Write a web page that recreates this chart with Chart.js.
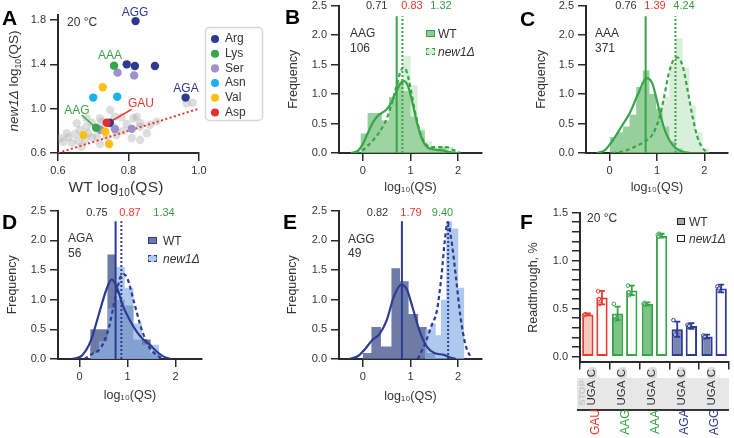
<!DOCTYPE html>
<html><head><meta charset="utf-8">
<script src="https://cdn.jsdelivr.net/npm/chart.js@4.4.1/dist/chart.umd.min.js"></script>
<style>
html,body{margin:0;padding:0;background:#fff}
body{width:734px;height:438px;position:relative;overflow:hidden;font-family:"Liberation Sans",Arial,Helvetica,sans-serif;color:#333}
canvas{position:absolute}
.t{position:absolute;white-space:nowrap;line-height:1}
.c{transform:translate(-50%,-50%)}
.l{transform:translate(0,-50%)}
.r{transform:translate(-50%,-50%) rotate(-90deg)}
.pl{font-weight:bold;font-size:21px;color:#000}
.sub{font-size:8.5px;position:relative;top:3px}
.subA{font-size:10px;position:relative;top:3.5px}
</style></head><body>
<script>
// ---------------- DATA ----------------
// Panel A
const aLegend = ['Arg','Lys','Ser','Asn','Val','Asp'];
const aArg = [[0.82,1.79],[0.795,1.40],[0.818,1.385],[0.875,1.385],[0.962,1.10],[0.747,0.873]];
const aLys = [[0.759,1.388],[0.708,0.828]];
const aSer = [[0.769,1.325],[0.816,1.30],[0.762,0.815],[0.809,0.818],[0.72,0.81]];
const aAsn = [[0.70,1.10],[0.768,1.108]];
const aVal = [[0.727,1.193],[0.672,0.762],[0.734,0.792],[0.745,0.681]];
const aAsp = [[0.738,0.873]];
const aGray = [[0.965,1.049],[0.982,1.054],[0.748,0.988],[0.781,0.922],[0.814,0.913],[0.823,0.928],[0.861,0.853],[0.833,0.837],[0.809,0.733],[0.833,0.717],[0.724,0.883],[0.696,0.874],[0.681,0.837],[0.662,0.808],[0.648,0.771],[0.629,0.741],[0.615,0.702],[0.639,0.693],[0.658,0.711],[0.677,0.717],[0.696,0.741],[0.719,0.681],[0.71,0.747],[0.766,0.762],[0.785,0.801],[0.795,0.862],[0.762,0.928],[0.719,0.913],[0.681,0.913],[0.653,0.868],[0.686,0.778],[0.738,0.747],[0.88,0.883],[0.852,0.778],[0.625,0.778],[0.606,0.733],[0.757,0.837],[0.667,0.657],[0.833,0.868]];
const aDiag = [[0.6,0.6],[1.0,1.0]];
const aLeaderAAG = [[0.667,0.943],[0.708,0.828]];
const aLeaderGAU = [[0.809,0.994],[0.743,0.873]];
const aXTicks = [0.6,0.8,1.0];
const aYTicks = [0.6,1.0,1.4,1.8];

// Histogram panels (B-E)
const histXTicks = [0,1,2];
const histYTicks = [0,0.5,1.0,1.5,2.0,2.5];
const medTop = 2.32;

const bMedians = [0.71,0.83];
const bWtEdges = [-0.05,0.1,0.25,0.4,0.55,0.7,0.85,1.0,1.15,1.3,1.45,1.6,1.75];
const bWtHist  = [0.33,0.68,0.68,0.55,0.95,1.2,1.05,0.62,0.38,0.1,0.05,0.1];
const bNewEdges = [-0.05,0.1,0.25,0.4,0.55,0.7,0.85,1.0,1.15,1.3,1.45,1.6,1.75,1.9];
const bNewHist  = [0.12,0.2,0.3,0.5,0.82,1.25,1.65,1.15,0.42,0.2,0.1,0.12,0.1];
const bKdeWT = [[-0.25,0],[-0.1,0.04],[0.0,0.15],[0.1,0.33],[0.2,0.5],[0.3,0.62],[0.4,0.68],[0.5,0.74],[0.6,0.86],[0.7,1.04],[0.8,1.19],[0.87,1.22],[0.95,1.13],[1.05,0.82],[1.15,0.47],[1.25,0.22],[1.35,0.1],[1.5,0.06],[1.7,0.04],[1.85,0.01],[2.0,0]];
const bKdeNew = [[-0.15,0],[0.0,0.05],[0.1,0.12],[0.2,0.2],[0.3,0.3],[0.4,0.42],[0.5,0.58],[0.6,0.82],[0.7,1.12],[0.8,1.4],[0.85,1.45],[0.92,1.38],[1.0,1.1],[1.1,0.68],[1.2,0.35],[1.3,0.17],[1.45,0.1],[1.6,0.1],[1.75,0.1],[1.9,0.05],[2.05,0]];

const cMedians = [0.76,1.39];
const cWtEdges = [0,0.14,0.28,0.42,0.56,0.7,0.84,0.98,1.12,1.26,1.4,1.54];
const cWtHist  = [0.27,0.35,0.45,0.65,1.12,1.4,1.0,0.75,0.45,0.2,0.08];
const cNewEdges = [0.28,0.42,0.56,0.7,0.84,0.98,1.12,1.26,1.4,1.54,1.68,1.82,1.96,2.1];
const cNewHist  = [0.05,0.1,0.15,0.22,0.3,0.55,0.95,1.5,1.95,1.45,0.8,0.35,0.08];
const cKdeWT = [[-0.27,0],[-0.1,0.05],[0.07,0.22],[0.25,0.45],[0.42,0.67],[0.6,1.0],[0.78,1.27],[0.9,1.18],[1.05,0.72],[1.15,0.42],[1.26,0.22],[1.4,0.08],[1.55,0.02],[1.7,0]];
const cKdeNew = [[0.05,0],[0.3,0.03],[0.57,0.12],[0.75,0.2],[0.91,0.32],[1.05,0.6],[1.15,0.95],[1.25,1.35],[1.35,1.58],[1.44,1.62],[1.55,1.45],[1.65,1.05],[1.75,0.62],[1.85,0.28],[1.95,0.1],[2.07,0]];

const dMedians = [0.75,0.87];
const dWtEdges = [0.22,0.4,0.58,0.76,0.94,1.12,1.3,1.48,1.66];
const dWtHist  = [0.5,0.5,1.76,1.0,0.9,0.33,0.33,0.1];
const dNewEdges = [0.22,0.4,0.58,0.76,0.94,1.12,1.3,1.48,1.66];
const dNewHist  = [0.1,0.3,0.85,1.55,1.2,0.6,0.24,0.24];
const dKdeWT = [[-0.15,0],[0.05,0.06],[0.23,0.3],[0.4,0.75],[0.55,1.15],[0.67,1.34],[0.78,1.2],[0.9,0.9],[1.05,0.65],[1.2,0.45],[1.33,0.33],[1.45,0.25],[1.6,0.13],[1.75,0.04],[1.9,0]];
const dKdeNew = [[0.1,0],[0.25,0.08],[0.45,0.2],[0.6,0.5],[0.75,1.05],[0.85,1.38],[0.92,1.43],[1.0,1.35],[1.13,0.97],[1.3,0.48],[1.45,0.2],[1.6,0.07],[1.75,0]];

const eMedians = [0.82,1.79];
const eWtEdges = [0,0.18,0.38,0.6,0.78,0.96,1.16,1.34,1.52];
const eWtHist  = [0.1,0.54,0.21,1.53,1.31,0.76,0.54,0.1];
const eNewEdges = [1.3,1.42,1.53,1.64,1.75,1.87,2.0,2.13];
const eNewHist  = [0.5,0.6,0.4,1.0,2.32,2.2,1.2];
const eKdeWT = [[-0.3,0],[-0.1,0.05],[0.05,0.17],[0.2,0.32],[0.35,0.42],[0.5,0.65],[0.65,1.05],[0.8,1.25],[0.92,1.18],[1.05,0.85],[1.2,0.45],[1.35,0.2],[1.5,0.1],[1.7,0.07],[1.85,0.02],[1.95,0]];
const eKdeNew = [[1.15,0],[1.3,0.25],[1.45,0.58],[1.55,0.8],[1.65,1.4],[1.72,2.0],[1.78,2.3],[1.85,2.05],[1.95,1.4],[2.05,0.7],[2.15,0.25],[2.28,0]];

// Panel F
const fCodons = ['GAU','AAG','AAA','AGA','AGG'];
const fWT  = [0.44,0.45,0.55,0.285,0.21];
const fNew = [0.615,0.69,1.26,0.32,0.71];
const fErrWT  = [0.01,0.07,0.015,0.08,0.02];
const fErrNew = [0.07,0.05,0.02,0.03,0.04];
const fRepWT  = [[0.43,0.44,0.44],[0.55,0.42,0.38],[0.55,0.56,0.54],[0.38,0.25,0.23],[0.22,0.20,0.21]];
const fRepNew = [[0.68,0.60,0.55],[0.74,0.67,0.64],[1.27,1.25,1.28],[0.33,0.31,0.32],[0.73,0.69,0.71]];
const fTicks = [0,0.1,0.2,0.3,0.4,0.5,0.6,0.7,0.8,0.9,1.0,1.1,1.2,1.3,1.4,1.5];
const fTickLabels = ['0.0','0.5','1.0','1.5'];

// ---------------- STYLE ----------------
const AX = '#2a2a2a';
const GREEN = '#36a548', BLUE = '#2d3b94', RED = '#e8392f', NUMGREEN = '#3a9b47', TXT = '#333';
const aColors = ['#2d3a8f','#35a848','#9d90cc','#1db1ec','#fbbf12','#e6302e'];
const fColors = [RED, GREEN, GREEN, BLUE, BLUE];
const fWtFill = ['#f8c7bb','#7cc387','#7cc387','#7a86ad','#7a86ad'];
Chart.defaults.font.family = '"Liberation Sans", Arial, Helvetica, sans-serif';
Chart.defaults.font.size = 11;
Chart.defaults.color = TXT;

const pts = arr => arr.map(p => ({x: p[0], y: p[1]}));
const fmt1 = v => Number(v).toFixed(1);
const fmt0 = v => String(v);

function mkCanvas(area, yW, xH, padTop, padRight, extraRight) {
  const l = area.l - yW, t = area.t - padTop;
  const w = area.r + (extraRight || 0) + padRight - l, h = area.b + xH - t;
  const c = document.createElement('canvas');
  c.width = w; c.height = h;
  Object.assign(c.style, {left: l + 'px', top: t + 'px', width: w + 'px', height: h + 'px'});
  document.body.appendChild(c);
  return {c, l, t, padTop, padRight};
}
function axis(pos, min, max, ticks, fmt, size, title, tsize) {
  const horiz = pos === 'bottom';
  return {
    type: 'linear', position: pos, min, max,
    border: {display: true, color: AX, width: 2},
    grid: {drawOnChartArea: false, drawTicks: true, tickLength: 8, color: AX, lineWidth: 1.5},
    ticks: {font: {size: 11}, color: TXT, padding: horiz ? 3 : 4, autoSkip: false, maxRotation: 0, callback: fmt},
    afterBuildTicks: s => { s.ticks = ticks.map(v => ({value: v})); },
    afterFit: s => { if (horiz) s.height = size; else s.width = size; },
    title: title ? {display: true, text: title, font: {size: tsize || 12.5}, color: TXT, padding: 0} : {display: false}
  };
}
function baseOpts(cv) {
  return {responsive: false, animation: false, devicePixelRatio: 1, events: [],
    layout: {padding: {top: cv.padTop, right: cv.padRight, left: 0, bottom: 0}}};
}
function txt(html, x, y, cls, style) {
  const d = document.createElement('div');
  d.className = 't ' + cls; d.innerHTML = html;
  d.style.left = x + 'px'; d.style.top = y + 'px';
  Object.assign(d.style, style || {});
  document.body.appendChild(d);
  return d;
}
function box(x, y, w, h, style) {
  const d = document.createElement('div');
  Object.assign(d.style, {position: 'absolute', left: x + 'px', top: y + 'px', width: w + 'px', height: h + 'px', boxSizing: 'border-box'}, style);
  document.body.appendChild(d);
  return d;
}

// ---------------- PANEL A ----------------
const A = mkCanvas({l: 58, t: 15, r: 199, b: 153}, 58, 43, 15, 5, 60);
const aGroups = [aArg, aLys, aSer, aAsn, aVal, aAsp];
const aOrder = [4, 2, 6, 5, 3, 1];
const aDatasets = aGroups.map((g, i) => ({type: 'scatter', label: aLegend[i], data: pts(g),
  backgroundColor: aColors[i], borderColor: aColors[i], borderWidth: 0, pointRadius: 4.2, pointStyle: 'circle', order: aOrder[i]}));
aDatasets.push({type: 'scatter', label: 'other', data: pts(aGray), backgroundColor: 'rgba(165,165,165,0.38)', borderWidth: 0, pointRadius: 4.2, order: 20});
aDatasets.push({type: 'line', label: 'y=x', data: pts(aDiag), borderColor: RED, borderWidth: 2, borderDash: [2, 2.5], pointRadius: 0, order: 15});
aDatasets.push({type: 'line', label: 'AAG', data: pts(aLeaderAAG), borderColor: GREEN, borderWidth: 1.5, pointRadius: 0, order: 7});
aDatasets.push({type: 'line', label: 'GAU', data: pts(aLeaderGAU), borderColor: RED, borderWidth: 1.5, pointRadius: 0, order: 7});
const aLegendPlugin = {
  id: 'aLegendBox',
  beforeLayout(chart) {
    const lg = chart.legend;
    if (lg && !lg.__fixed) { const f = lg.fit.bind(lg); lg.fit = function () { f(); this.width = 60; }; lg.__fixed = true; }
  },
  afterLayout(chart) {
    const lg = chart.legend, w = lg.width, h = lg.height;
    lg.left = 208.3; lg.top = 30.3; lg.right = lg.left + w; lg.bottom = lg.top + h;
  },
  beforeDraw(chart) {
    const ctx = chart.ctx; ctx.save(); ctx.strokeStyle = '#d6d6d6'; ctx.lineWidth = 1.5;
    ctx.beginPath(); ctx.roundRect(205.5, 27.5, 57, 93, 4); ctx.stroke(); ctx.restore();
  }
};
new Chart(A.c, {type: 'scatter', data: {datasets: aDatasets}, options: Object.assign(baseOpts(A), {
  scales: {x: axis('bottom', 0.6, 1.0, aXTicks, fmt1, 43, null), y: axis('left', 0.6, 1.845, aYTicks, fmt1, 58, null)},
  plugins: {tooltip: {enabled: false}, legend: {display: true, position: 'right', align: 'start',
    labels: {usePointStyle: true, boxWidth: 8, boxHeight: 5.7, padding: 2.7, font: {size: 12}, color: TXT,
      filter: it => it.datasetIndex < 6, sort: (a, b) => a.datasetIndex - b.datasetIndex}}}
}), plugins: [aLegendPlugin]});

// ---------------- HISTOGRAM PANELS ----------------
function histPanel(p) {
  const cv = mkCanvas(p.area, p.yW, p.xH, 10, p.padR, 0);
  const stepData = (edges, h) => edges.map((e, i) => ({x: e, y: i < h.length ? h[i] : 0}));
  const ds = [
    {label: 'WT median', data: [{x: p.med[0], y: 0}, {x: p.med[0], y: medTop}], borderColor: p.line, borderWidth: 2, pointRadius: 0, order: 1},
    {label: 'new1 median', data: [{x: p.med[1], y: 0}, {x: p.med[1], y: medTop}], borderColor: p.line, borderWidth: 2, borderDash: [2, 2], pointRadius: 0, order: 1},
    {label: 'WT', data: pts(p.kdeWT), borderColor: p.line, borderWidth: 2.2, pointRadius: 0, cubicInterpolationMode: 'monotone', order: 2},
    {label: 'new1', data: pts(p.kdeNew), borderColor: p.line, borderWidth: 2.2, borderDash: [4, 3], pointRadius: 0, cubicInterpolationMode: 'monotone', order: 2},
    {label: 'new1 hist', data: stepData(p.newE, p.newH), stepped: 'before', fill: 'origin', backgroundColor: p.newFill, borderColor: 'rgba(0,0,0,0)', borderWidth: 0, pointRadius: 0, order: 10},
    {label: 'WT hist', data: stepData(p.wtE, p.wtH), stepped: 'before', fill: 'origin', backgroundColor: p.wtFill, borderColor: 'rgba(0,0,0,0)', borderWidth: 0, pointRadius: 0, order: 11}
  ];
  return new Chart(cv.c, {type: 'line', data: {datasets: ds}, options: Object.assign(baseOpts(cv), {
    scales: {x: axis('bottom', p.xmin, p.xmax, histXTicks, fmt0, p.xH, 'log\u2081\u2080(QS)'), y: axis('left', 0, 2.5, histYTicks, fmt1, p.yW, 'Frequency')},
    plugins: {legend: {display: false}, tooltip: {enabled: false}}
  })});
}
const gWt = 'rgba(80,175,90,0.6)', gNew = 'rgba(170,220,170,0.45)';
const uWt = 'rgba(85,100,150,0.85)', uNew = 'rgba(140,178,228,0.7)';
histPanel({area: {l: 339, t: 5, r: 482, b: 153}, yW: 53, xH: 42, padR: 6, xmin: -0.5, xmax: 2.5, med: bMedians, line: GREEN,
  wtFill: gWt, newFill: gNew, wtE: bWtEdges, wtH: bWtHist, newE: bNewEdges, newH: bNewHist, kdeWT: bKdeWT, kdeNew: bKdeNew});
histPanel({area: {l: 586, t: 5, r: 728, b: 153}, yW: 52, xH: 42, padR: 6, xmin: -0.5, xmax: 2.5, med: cMedians, line: GREEN,
  wtFill: gWt, newFill: gNew, wtE: cWtEdges, wtH: cWtHist, newE: cNewEdges, newH: cNewHist, kdeWT: cKdeWT, kdeNew: cKdeNew});
histPanel({area: {l: 58, t: 210, r: 202, b: 359}, yW: 53, xH: 44, padR: 8, xmin: -0.45, xmax: 2.55, med: dMedians, line: BLUE,
  wtFill: uWt, newFill: uNew, wtE: dWtEdges, wtH: dWtHist, newE: dNewEdges, newH: dNewHist, kdeWT: dKdeWT, kdeNew: dKdeNew});
histPanel({area: {l: 339, t: 210, r: 482, b: 359}, yW: 54, xH: 45, padR: 8, xmin: -0.5, xmax: 2.5, med: eMedians, line: BLUE,
  wtFill: uWt, newFill: uNew, wtE: eWtEdges, wtH: eWtHist, newE: eNewEdges, newH: eNewHist, kdeWT: eKdeWT, kdeNew: eKdeNew});

// ---------------- PANEL F ----------------
const F = mkCanvas({l: 580, t: 212, r: 729, b: 363}, 54, 10, 10, 4, 0);
const fMarks = {id: 'errbarsAndReplicates', afterDatasetsDraw(chart) {
  const ctx = chart.ctx, ys = chart.scales.y;
  [[0, fWT, fErrWT, fRepWT], [1, fNew, fErrNew, fRepNew]].forEach(([di, vals, errs, reps]) => {
    chart.getDatasetMeta(di).data.forEach((bar, i) => {
      const x = bar.x, y1 = ys.getPixelForValue(vals[i] - errs[i]), y2 = ys.getPixelForValue(vals[i] + errs[i]);
      ctx.save();
      ctx.strokeStyle = fColors[i]; ctx.fillStyle = 'rgba(255,255,255,0.6)'; ctx.lineWidth = 1;
      reps[i].forEach((v, k) => {
        const px = x - 3 + (k - 1) * 0.8, py = ys.getPixelForValue(v);
        ctx.beginPath(); ctx.arc(px, py, 1.8, 0, Math.PI * 2); ctx.fill(); ctx.stroke();
      });
      ctx.lineWidth = 1.8; ctx.beginPath();
      ctx.moveTo(x, y1); ctx.lineTo(x, y2);
      ctx.moveTo(x - 3, y1); ctx.lineTo(x + 3, y1); ctx.moveTo(x - 3, y2); ctx.lineTo(x + 3, y2);
      ctx.stroke(); ctx.restore();
    });
  });
}};
const fChart = new Chart(F.c, {type: 'bar', data: {labels: fCodons, datasets: [
  {label: 'WT', data: fWT, backgroundColor: fWtFill, borderColor: fColors, borderWidth: 2, borderSkipped: false, barPercentage: 0.8, categoryPercentage: 0.95},
  {label: 'new1\u0394', data: fNew, backgroundColor: '#ffffff', borderColor: fColors, borderWidth: 2, borderSkipped: false, barPercentage: 0.8, categoryPercentage: 0.95}
]}, options: Object.assign(baseOpts(F), {
  scales: {
    x: {type: 'category', offset: true, border: {display: true, color: AX, width: 2},
      grid: {offset: true, drawOnChartArea: false, drawTicks: true, tickLength: 7, color: AX, lineWidth: 1.5},
      ticks: {display: false}, afterFit: s => { s.height = 10; }},
    y: axis('left', -0.06, 1.5, fTicks, v => { const s = Number(v).toFixed(1); return fTickLabels.includes(s) ? s : ''; }, 54, 'Readthrough, %')
  },
  plugins: {legend: {display: false}, tooltip: {enabled: false}}
}), plugins: [fMarks]});

// ---------------- TEXT / ANNOTATIONS ----------------
// panel letters
txt('A', 2, 17, 'l pl'); txt('B', 285, 15.5, 'l pl'); txt('C', 520, 17.5, 'l pl');
txt('D', 2, 220.5, 'l pl'); txt('E', 283, 220.5, 'l pl'); txt('F', 520, 220.5, 'l pl');
// panel A
txt('20 \u00b0C', 67, 22, 'l', {fontSize: '12px'});
txt('AGG', 135, 12, 'c', {fontSize: '12px', color: aColors[0]});
txt('AAA', 110, 55, 'c', {fontSize: '12px', color: GREEN});
txt('AGA', 186, 88, 'c', {fontSize: '12px', color: aColors[0]});
txt('AAG', 77, 110, 'c', {fontSize: '12px', color: GREEN});
txt('GAU', 141, 103, 'c', {fontSize: '12px', color: RED});
txt('<i>new1\u0394</i> log<span class="sub">10</span>(QS)', 14, 81, 'r', {fontSize: '13.5px'});
txt('WT log<span class="subA">10</span>(QS)', 116, 187, 'c', {fontSize: '15.5px', letterSpacing: '0.2px'});
// histogram labels and numbers
const numRow = (y, xs, vals) => { const cols = [TXT, RED, NUMGREEN]; vals.forEach((v, i) => txt(v, xs[i], y, 'c', {fontSize: '11px', color: cols[i]})); };
numRow(5, [376.7, 412, 441], ['0.71', '0.83', '1.32']);
numRow(5, [626, 655, 684], ['0.76', '1.39', '4.24']);
numRow(212, [97, 130, 164], ['0.75', '0.87', '1.34']);
numRow(212, [377.5, 411, 442.5], ['0.82', '1.79', '9.40']);
txt('AAG', 350, 33, 'l', {fontSize: '12px'}); txt('106', 350, 48, 'l', {fontSize: '12px'});
txt('AAA', 595, 33, 'l', {fontSize: '12px'}); txt('371', 595, 48, 'l', {fontSize: '12px'});
txt('AGA', 68, 238, 'l', {fontSize: '12px'}); txt('56', 68, 253, 'l', {fontSize: '12px'});
txt('AGG', 348, 239, 'l', {fontSize: '12px'}); txt('49', 348, 253, 'l', {fontSize: '12px'});
// histogram legends
function histLegend(x, y, tx, fillWT, fillNew, col) {
  box(x, y - 3, 9, 7, {background: fillWT, border: '1.5px solid ' + col});
  txt('WT', tx, y + 0.5, 'l', {fontSize: '12px'});
  box(x, y + 15, 9, 7, {background: fillNew, border: '1.5px dashed ' + col});
  txt('<i>new1\u0394</i>', tx, y + 18.5, 'l', {fontSize: '12px'});
}
histLegend(426, 33, 438, '#8fca93', '#d3ecd3', GREEN);
histLegend(148, 240, 163, '#6d7aa6', '#afc8ec', BLUE);
// panel F legend and texts
txt('20 \u00b0C', 587, 218, 'l', {fontSize: '12px'});
box(677, 218, 8, 7, {background: '#a8a8a8', border: '1.5px solid #222'});
txt('WT', 689, 221.5, 'l', {fontSize: '12px'});
box(677, 235, 8, 7, {background: '#fff', border: '1.5px solid #222'});
txt('<i>new1\u0394</i>', 689, 238.5, 'l', {fontSize: '12px'});
// panel F table
const ca = fChart.chartArea;
const fx = i => F.l + fChart.scales.x.getPixelForValue(i);
box(F.l + ca.left - 3, 378, ca.right - ca.left + 3, 31, {background: '#e7e7e7'});
box(F.l + ca.left - 3, 409, ca.right - ca.left + 3, 1.5, {background: '#333'});
txt('STOP', F.l + ca.left + 1.5, 393, 'r', {fontSize: '9.5px', fontWeight: 'bold', color: '#c6c6c6'});
fCodons.forEach((cod, i) => {
  const x = fx(i);
  box(x - 7, 367, 9, 12, {background: '#dcdcdc', borderRadius: '4px'});
  txt('C', x - 2.5, 373, 'r', {fontSize: '11.5px'});
  txt('UGA', x - 2.5, 393, 'r', {fontSize: '11.5px'});
  txt(cod, x, 422, 'r', {fontSize: '12px', color: fColors[i]});
});
</script>
</body></html>
